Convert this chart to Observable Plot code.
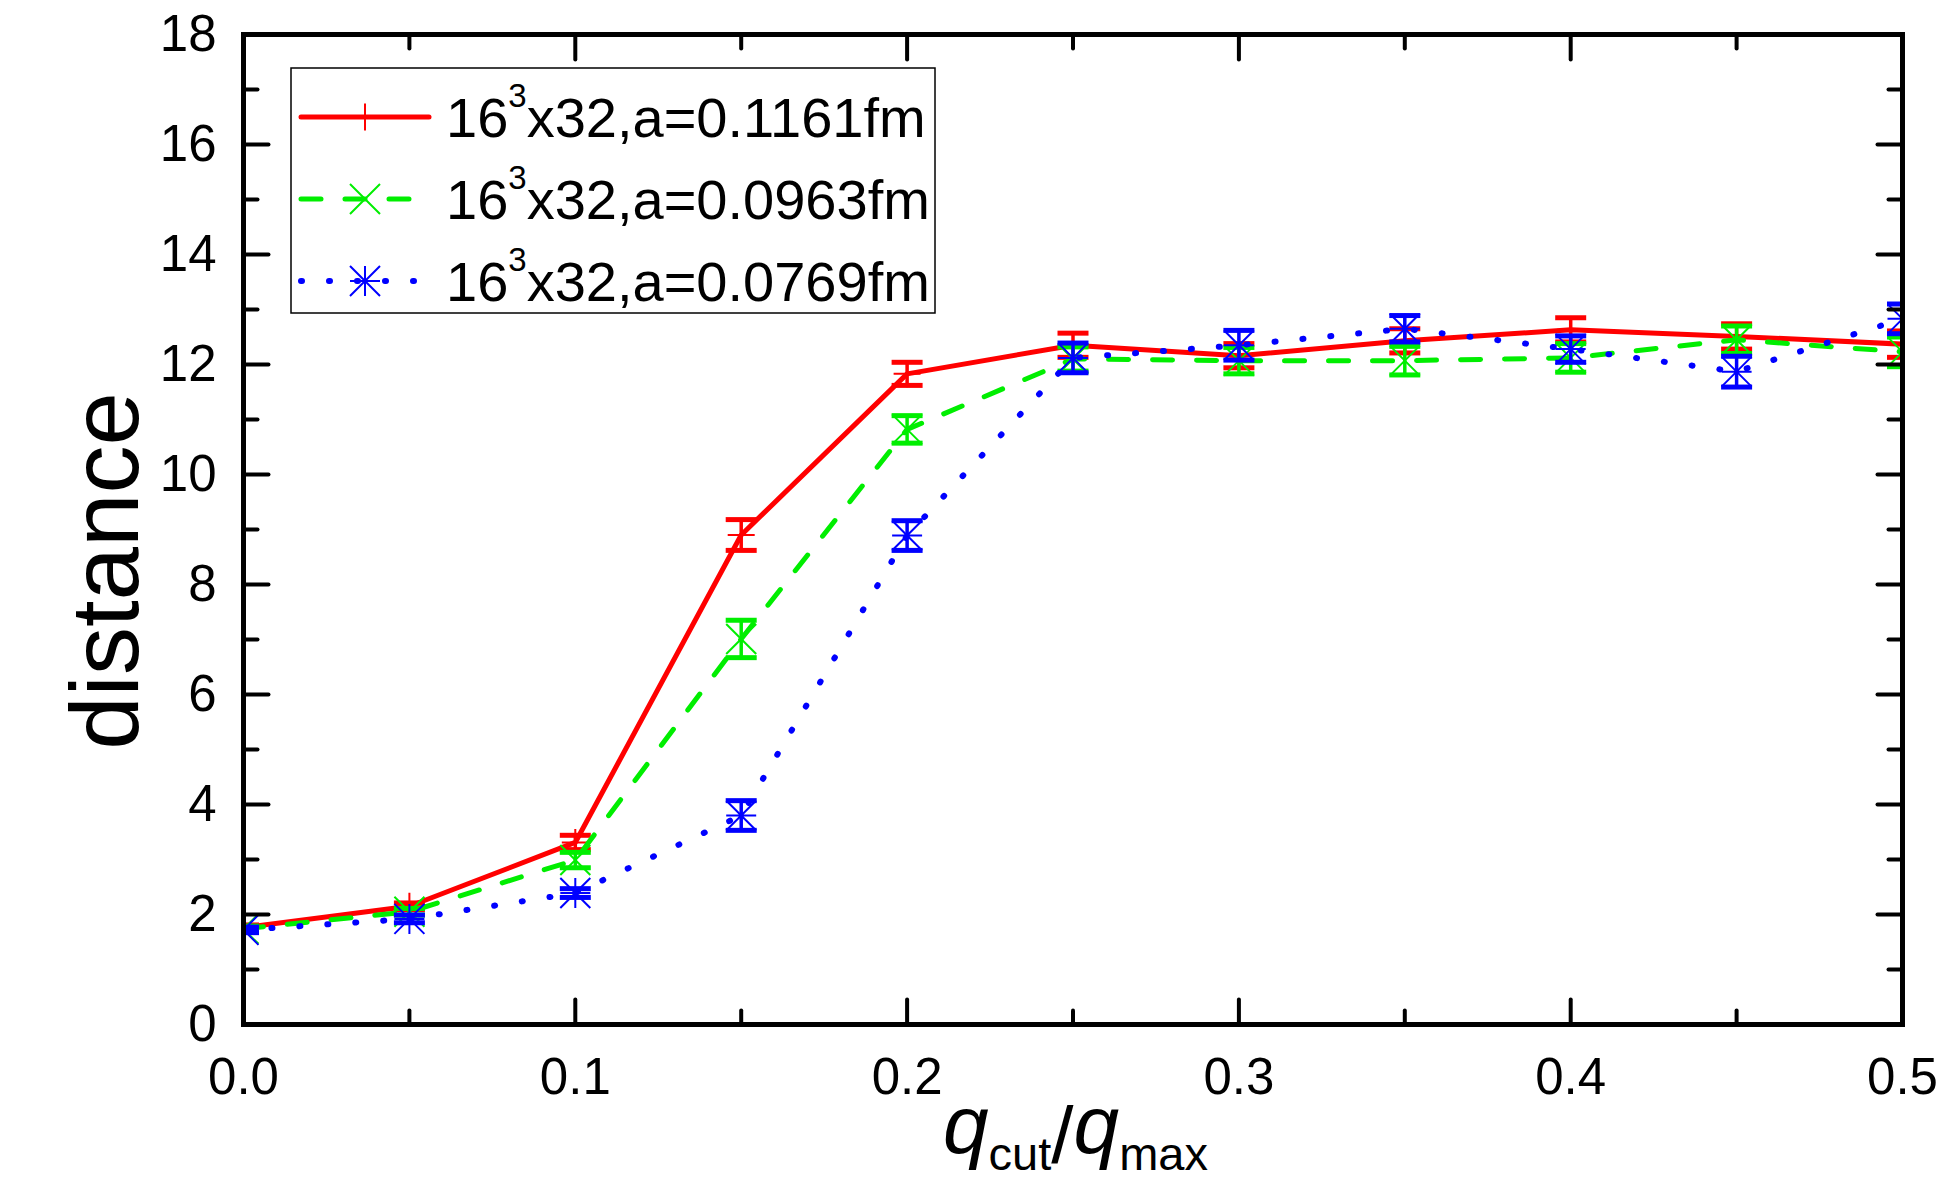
<!DOCTYPE html>
<html>
<head>
<meta charset="utf-8">
<script src="https://cdn.jsdelivr.net/npm/d3@7"></script>
<script src="https://cdn.jsdelivr.net/npm/@observablehq/plot@0.6"></script>
<style>
  html, body { margin: 0; padding: 0; background: #fff; }
  svg { display: block; }
</style>
</head>
<body>
<div id="chart"></div>
<script>
// q_cut / q_max values shared by all three lattices
const qCut = [0, 0.05, 0.1, 0.15, 0.2, 0.25, 0.3, 0.35, 0.4, 0.45, 0.5];

// lattice spacings (fm), all on 16^3 x 32 volumes
const spacings = ["0.1161", "0.0963", "0.0769"];

// distance and its error for each lattice spacing
const dist_a1161 = [1.76, 2.15, 3.31, 8.90, 11.83, 12.35, 12.16, 12.43, 12.63, 12.51, 12.37];
const err_a1161  = [0.05, 0.06, 0.13, 0.28, 0.21, 0.22, 0.22, 0.22, 0.22, 0.23, 0.24];
const dist_a0963 = [1.74, 2.05, 2.99, 7.01, 10.82, 12.10, 12.07, 12.07, 12.12, 12.45, 12.23];
const err_a0963  = [0.05, 0.06, 0.14, 0.34, 0.25, 0.22, 0.24, 0.26, 0.26, 0.25, 0.27];
const dist_a0769 = [1.72, 1.92, 2.39, 3.80, 8.89, 12.12, 12.35, 12.65, 12.28, 11.87, 12.83];
const err_a0769  = [0.05, 0.07, 0.08, 0.27, 0.27, 0.27, 0.27, 0.24, 0.24, 0.28, 0.27];

// axis ticks
const xMajorTicks = [0, 0.1, 0.2, 0.3, 0.4, 0.5];
const xMinorTicks = [0.05, 0.15, 0.25, 0.35, 0.45];
const yMajorTicks = [0, 2, 4, 6, 8, 10, 12, 14, 16, 18];
const yMinorTicks = [1, 3, 5, 7, 9, 11, 13, 15, 17];

// stroke-only symbols sized so that r is the half-extent in pixels
const half = size => Math.sqrt(size / Math.PI);
const plusSymbol = { draw(c, size) { const r = half(size); c.moveTo(-r, 0); c.lineTo(r, 0); c.moveTo(0, -r); c.lineTo(0, r); } };
const timesSymbol = { draw(c, size) { const r = half(size); c.moveTo(-r, -r); c.lineTo(r, r); c.moveTo(-r, r); c.lineTo(r, -r); } };
const starSymbol = { draw(c, size) { const r = half(size); c.moveTo(-r, 0); c.lineTo(r, 0); c.moveTo(0, -r); c.lineTo(0, r); c.moveTo(-r, -r); c.lineTo(r, r); c.moveTo(-r, r); c.lineTo(r, -r); } };
const capSymbol = { draw(c, size) { const r = half(size); c.moveTo(-r, 0); c.lineTo(r, 0); } };
// a tick drawn from its anchor along the vector direction
const tickShape = { draw(c, l) { c.moveTo(0, 0); c.lineTo(0, -l); } };

const series = [
  { a: spacings[0], dist: dist_a1161, err: err_a1161, color: "#ff0000", symbol: plusSymbol,  r: 13.5, width: 5,   dash: null,     cap: "round" },
  { a: spacings[1], dist: dist_a0963, err: err_a0963, color: "#00ee00", symbol: timesSymbol, r: 15,   width: 5,   dash: "20,24",  cap: "round" },
  { a: spacings[2], dist: dist_a0769, err: err_a0769, color: "#0000ff", symbol: starSymbol,  r: 15,   width: 6,   dash: "1,27",   cap: "round" }
];

const marks = [];
for (const s of series) {
  const rows = qCut.map((q, i) => ({ q, d: s.dist[i], lo: s.dist[i] - s.err[i], hi: s.dist[i] + s.err[i] }));
  marks.push(Plot.line(rows, { x: "q", y: "d", stroke: s.color, strokeWidth: s.width, strokeDasharray: s.dash, strokeLinecap: s.cap, strokeLinejoin: "round", clip: true }));
  marks.push(Plot.ruleX(rows, { x: "q", y1: "lo", y2: "hi", stroke: s.color, strokeWidth: 3.5, clip: true }));
  marks.push(Plot.dot(rows, { x: "q", y: "lo", symbol: capSymbol, r: 15.5, stroke: s.color, strokeWidth: 5, fill: "none", clip: true }));
  marks.push(Plot.dot(rows, { x: "q", y: "hi", symbol: capSymbol, r: 15.5, stroke: s.color, strokeWidth: 5, fill: "none", clip: true }));
  marks.push(Plot.dot(rows, { x: "q", y: "d", symbol: s.symbol, r: s.r, stroke: s.color, strokeWidth: 2, fill: "none", clip: true }));
}

// inward ticks on all four sides
const tickStyle = { shape: tickShape, anchor: "start", stroke: "black", strokeWidth: 4 };
marks.push(
  Plot.vector(yMajorTicks, { y: d => d, frameAnchor: "left",   rotate: 90,  length: 25, ...tickStyle }),
  Plot.vector(yMinorTicks, { y: d => d, frameAnchor: "left",   rotate: 90,  length: 14, ...tickStyle }),
  Plot.vector(yMajorTicks, { y: d => d, frameAnchor: "right",  rotate: -90, length: 25, ...tickStyle }),
  Plot.vector(yMinorTicks, { y: d => d, frameAnchor: "right",  rotate: -90, length: 14, ...tickStyle }),
  Plot.vector(xMajorTicks, { x: d => d, frameAnchor: "bottom", rotate: 0,   length: 25, ...tickStyle }),
  Plot.vector(xMinorTicks, { x: d => d, frameAnchor: "bottom", rotate: 0,   length: 14, ...tickStyle }),
  Plot.vector(xMajorTicks, { x: d => d, frameAnchor: "top",    rotate: 180, length: 25, ...tickStyle }),
  Plot.vector(xMinorTicks, { x: d => d, frameAnchor: "top",    rotate: 180, length: 14, ...tickStyle }),
  Plot.frame({ stroke: "black", strokeWidth: 5 }),
  Plot.axisX({ ticks: xMajorTicks, tickSize: 0, tickPadding: 33, tickFormat: d3.format(".1f"), fontSize: 51, label: null }),
  Plot.axisY({ ticks: yMajorTicks, tickSize: 0, tickPadding: 27, tickFormat: d => String(d), fontSize: 51, label: null })
);

const chart = Plot.plot({
  width: 1950,
  height: 1196,
  marginLeft: 243,
  marginRight: 48,
  marginTop: 34,
  marginBottom: 172,
  x: { domain: [0, 0.5] },
  y: { domain: [0, 18] },
  style: { fontFamily: "'Liberation Sans', Arial, Helvetica, sans-serif", color: "black", background: "white" },
  marks
});

const svg = d3.select(chart);
const font = "'Liberation Sans', Arial, Helvetica, sans-serif";

// y-axis title
svg.append("text")
  .attr("transform", "translate(138,571) rotate(-90)")
  .attr("text-anchor", "middle")
  .attr("font-family", font)
  .attr("font-size", 96)
  .attr("fill", "black")
  .text("distance");

// x-axis title: q_cut / q_max
const xt = svg.append("text")
  .attr("x", 943).attr("y", 1153)
  .attr("text-anchor", "start")
  .attr("font-family", font)
  .attr("fill", "black");
xt.append("tspan").attr("font-size", 82).attr("font-style", "italic").text("q");
xt.append("tspan").attr("font-size", 47).attr("dy", 17).text("cut");
xt.append("tspan").attr("font-size", 80).attr("dy", -7).text("/");
xt.append("tspan").attr("font-size", 82).attr("font-style", "italic").attr("dy", -10).text("q");
xt.append("tspan").attr("font-size", 47).attr("dy", 17).text("max");

// legend box
const lg = svg.append("g").attr("text-anchor", "start");
lg.append("rect")
  .attr("x", 291).attr("y", 68).attr("width", 644).attr("height", 245)
  .attr("fill", "white").attr("stroke", "black").attr("stroke-width", 1.5);
series.forEach((s, i) => {
  const cy = 117 + i * 82;
  lg.append("line")
    .attr("x1", 301).attr("x2", 429).attr("y1", cy).attr("y2", cy)
    .attr("stroke", s.color).attr("stroke-width", s.width)
    .attr("stroke-dasharray", s.dash).attr("stroke-linecap", s.cap);
  lg.append("path")
    .attr("transform", `translate(365,${cy})`)
    .attr("d", d3.symbol(s.symbol, Math.PI * s.r * s.r)())
    .attr("fill", "none").attr("stroke", s.color).attr("stroke-width", 2);
  const t = lg.append("text")
    .attr("x", 446).attr("y", cy + 20)
    .attr("text-anchor", "start")
    .attr("font-family", font).attr("fill", "black");
  t.append("tspan").attr("font-size", 56).text("16");
  t.append("tspan").attr("font-size", 33).attr("dy", -30).text("3");
  t.append("tspan").attr("font-size", 56).attr("dy", 30).text(`x32,a=${s.a}fm`);
});

document.getElementById("chart").appendChild(chart);
</script>
</body>
</html>
